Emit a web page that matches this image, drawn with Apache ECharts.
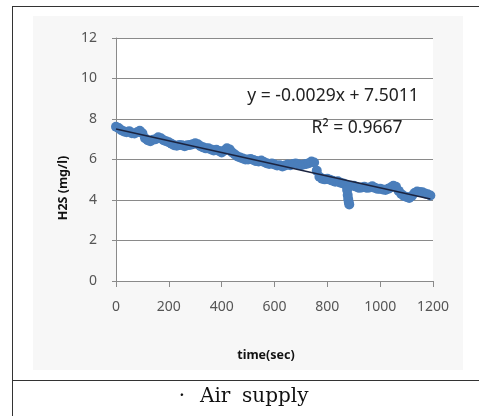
<!DOCTYPE html>
<html>
<head>
<meta charset="utf-8">
<script src="https://cdn.jsdelivr.net/npm/echarts@6/dist/echarts.min.js"></script>
<style>
  html, body { margin: 0; padding: 0; background: #fff; }
  #chart { width: 479px; height: 416px; }
</style>
</head>
<body>
<div id="chart"></div>
<script>
// sampling step of the logger (sec)
const step = 10;
// H2S readings (mg/l), one every 10 s from t = 0
const h2s = [
  7.62, 7.55, 7.45, 7.38, 7.35, 7.40, 7.30, 7.28, 7.35, 7.42,
  7.30, 7.05, 6.95, 6.90, 6.98, 7.00, 7.10, 7.05, 6.95, 6.90,
  6.85, 6.78, 6.70, 6.68, 6.72, 6.70, 6.65, 6.70, 6.72, 6.75,
  6.80, 6.75, 6.65, 6.60, 6.55, 6.55, 6.50, 6.45, 6.48, 6.42,
  6.35, 6.45, 6.55, 6.50, 6.35, 6.25, 6.15, 6.10, 6.05, 6.00,
  6.00, 6.02, 5.98, 5.92, 5.90, 5.95, 5.88, 5.82, 5.78, 5.80,
  5.75, 5.70, 5.72, 5.65, 5.70, 5.75, 5.72, 5.78, 5.80, 5.76,
  5.72, 5.75, 5.78, 5.82, 5.90, 5.85, 5.45, 5.15, 5.05, 5.02,
  5.05, 5.00, 4.95, 4.90, 4.92, 4.85, 4.82, 4.75, 4.70, 4.70,
  4.70, 4.65, 4.60, 4.62, 4.65, 4.60, 4.62, 4.68, 4.60, 4.55,
  4.55, 4.52, 4.50, 4.55, 4.62, 4.70, 4.65, 4.45, 4.30, 4.20,
  4.15, 4.10, 4.20, 4.35, 4.42, 4.40, 4.38, 4.32, 4.28, 4.22
];
// the short drop near 880 s
const dropTimes = [875, 877, 879, 881, 883];
const dropValues = [4.50, 4.25, 4.05, 3.90, 3.78];
// linear trend: slope, intercept (from the chart)
const trend = [-0.0029, 7.5011];
const trendRange = [0, 1190];
const eqText = 'y = -0.0029x + 7.5011';
const r2Text = 'R² = 0.9667';

const points = h2s.map((v, i) => [i * step, v])
  .concat(dropTimes.map((t, i) => [t, dropValues[i]]));
const trendLine = trendRange.map(t => [t, trend[0] * t + trend[1]]);

const chart = echarts.init(document.getElementById('chart'));
const tickFont = { color: '#555', fontSize: 14, fontFamily: 'Noto Sans' };

chart.setOption({
  animation: false,
  backgroundColor: '#fff',
  grid: {
    left: 116, right: 46, top: 38, bottom: 135,
    show: true, backgroundColor: '#fff', borderWidth: 0
  },
  xAxis: {
    type: 'value', min: 0, max: 1200, interval: 200,
    axisLine: { lineStyle: { color: '#8a8a8a' } },
    axisTick: { show: true, length: 6, lineStyle: { color: '#8a8a8a' } },
    axisLabel: Object.assign({ margin: 19, formatter: v => String(v) }, tickFont),
    splitLine: { show: false }
  },
  yAxis: {
    type: 'value', min: 0, max: 12, interval: 2,
    axisLine: { show: true, lineStyle: { color: '#8a8a8a' } },
    axisTick: { show: true, length: 4, lineStyle: { color: '#8a8a8a' } },
    axisLabel: Object.assign({ margin: 19 }, tickFont),
    splitLine: { lineStyle: { color: '#8a8a8a' } }
  },
  series: [{
    type: 'scatter',
    data: points,
    symbol: 'circle',
    symbolSize: 10,
    itemStyle: { color: '#4a7ebb', opacity: 1 }
  }, {
    type: 'line',
    data: trendLine,
    symbol: 'none',
    lineStyle: { color: '#1b2440', width: 1.5 },
    z: 5
  }],
  graphic: [
    { type: 'rect', silent: true, z: -10,
      shape: { x: 33, y: 16, width: 430, height: 354 },
      style: { fill: '#f7f7f7' } },
    { type: 'line', silent: true,
      shape: { x1: 12, y1: 6.5, x2: 479, y2: 6.5 },
      style: { stroke: '#333', lineWidth: 1 } },
    { type: 'line', silent: true,
      shape: { x1: 12.5, y1: 6, x2: 12.5, y2: 416 },
      style: { stroke: '#333', lineWidth: 1 } },
    { type: 'line', silent: true,
      shape: { x1: 12, y1: 380.5, x2: 479, y2: 380.5 },
      style: { stroke: '#333', lineWidth: 1 } },
    { type: 'text', x: 333, y: 96, z: 10,
      style: { text: eqText, fill: '#222', font: '17.5px "Noto Sans"',
               textAlign: 'center', textVerticalAlign: 'middle' } },
    { type: 'text', x: 357, y: 128, z: 10,
      style: { text: r2Text, fill: '#222', font: '17.5px "Noto Sans"',
               textAlign: 'center', textVerticalAlign: 'middle' } },
    { type: 'text', x: 266, y: 355,
      style: { text: 'time(sec)', fill: '#111', font: 'bold 12.5px "Noto Sans"',
               textAlign: 'center', textVerticalAlign: 'middle' } },
    { type: 'text', x: 63, y: 188, rotation: Math.PI / 2,
      style: { text: 'H2S (mg/l)', fill: '#111', font: 'bold 12.5px "Noto Sans"',
               textAlign: 'center', textVerticalAlign: 'middle' } },
    { type: 'text', x: 182, y: 397,
      style: { text: '·', fill: '#111', font: '20px "DejaVu Serif"',
               textAlign: 'center', textVerticalAlign: 'middle' } },
    { type: 'text', x: 200, y: 397,
      style: { text: 'Air', fill: '#111', font: '20px "DejaVu Serif"',
               textAlign: 'left', textVerticalAlign: 'middle' } },
    { type: 'text', x: 242, y: 397,
      style: { text: 'supply', fill: '#111', font: '20px "DejaVu Serif"',
               textAlign: 'left', textVerticalAlign: 'middle' } }
  ]
});
</script>
</body>
</html>
